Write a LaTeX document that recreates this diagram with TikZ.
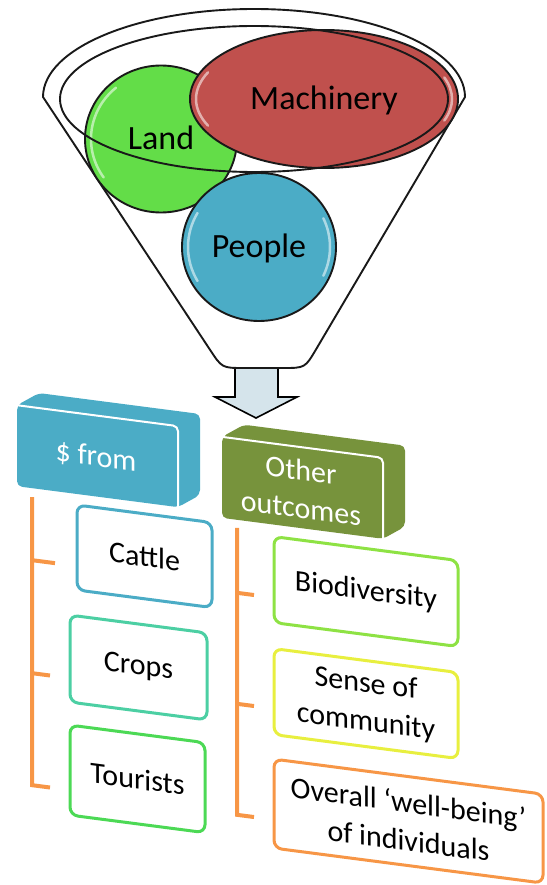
\documentclass[tikz,border=0pt]{standalone}
\usepackage{fontspec}
\setmainfont{Carlito}
\usetikzlibrary{shapes.geometric}
\definecolor{landC}{HTML}{63DD48}
\definecolor{machC}{HTML}{C0504D}
\definecolor{peopC}{HTML}{4BACC6}
\definecolor{otherC}{HTML}{77933C}
\definecolor{arrowC}{HTML}{D5E4EB}
\definecolor{orangeC}{HTML}{F79646}
\definecolor{cattleC}{HTML}{4BACC6}
\definecolor{cropsC}{HTML}{4CCFA3}
\definecolor{tourC}{HTML}{4CD955}
\definecolor{bioC}{HTML}{8EE244}
\definecolor{senseC}{HTML}{E8EF3F}
\begin{document}
\begin{tikzpicture}[x=1pt,y=-1pt,
  outl/.style={draw=black!90, line width=1.9pt},
  gloss/.style={draw=white, opacity=0.55, line width=2.5pt, line cap=round},
  blob/.style={ellipse, outl, inner sep=0pt, font=\fontsize{34}{40}\selectfont, text height=22pt, text depth=0pt},
  childbox/.style={draw, line width=3pt, rounded corners=8pt, fill=white, transform shape, inner sep=0pt, font=\fontsize{30}{38}\selectfont, align=center},
  headtext/.style={transform shape, text=white, inner sep=0pt, font=\fontsize{30}{38}\selectfont, align=center},
  orangeline/.style={draw=orangeC, line width=4pt, line join=miter}]
\useasboundingbox (0,0) rectangle (546,885);

% arrow
\path[fill=arrowC, draw=black, line width=1.6pt, line join=miter]
  (235,362) -- (278,362) -- (278,397) -- (297,397) -- (256,418) -- (215,397) -- (235,397) -- cycle;

% funnel body
\path[outl, fill=white] (43,97) arc[start angle=180, end angle=360, x radius=211, y radius=88]
  -- (316.2,349.1) .. controls (305,368) .. (283,368) -- (244,368)
  .. controls (222,368) .. (209.9,349.6) -- cycle;

% blobs
\node[blob, fill=landC, minimum width=152pt, minimum height=147pt] (land) at (161,139) {Land};
\draw[gloss] (land.center) ++(145:70 and 67) arc[start angle=145, end angle=230, x radius=70, y radius=67];
\node[blob, fill=machC, minimum width=268pt, minimum height=138pt] (mach) at (324,99) {Machinery};
\draw[gloss] (mach.center) ++(155:128 and 63) arc[start angle=155, end angle=205, x radius=128, y radius=63];
\draw[gloss] (mach.center) ++(-20:128 and 63) arc[start angle=-20, end angle=20, x radius=128, y radius=63];
\node[blob, fill=peopC, minimum width=154pt, minimum height=148pt] (people) at (259,247) {People};
\draw[gloss] (people.center) ++(150:71 and 68) arc[start angle=150, end angle=210, x radius=71, y radius=68];
\draw[gloss] (people.center) ++(-25:71 and 68) arc[start angle=-25, end angle=25, x radius=71, y radius=68];

% inner rim
\draw[outl] (254,99) ellipse[x radius=194, y radius=73];

% lower part, in perspective
\begin{scope}[yslant=-0.13]
  % head boxes
  \fill[peopC, rounded corners=5pt] (17,403) -- (39,388) -- (200,388) -- (200,469) -- (178,484) -- (17,484) -- cycle;
  \draw[white, line width=2pt, rounded corners=5pt] (18,403) -- (178,403) -- (178,484);
  \node[headtext] (from) at (96,445) {\$ from};

  \fill[otherC, rounded corners=5pt] (222,408) -- (244,393) -- (405,393) -- (405,474) -- (383,489) -- (222,489) -- cycle;
  \draw[white, line width=2pt, rounded corners=5pt] (223,408) -- (383,408) -- (383,489);
  \node[headtext] (other) at (301,450) {Other\\outcomes};

  % children
  \node[childbox, draw=cattleC, minimum width=135pt, minimum height=85pt] (cattle) at (144.5,537.5) {Cattle};
  \node[childbox, draw=cropsC, minimum width=137pt, minimum height=87pt] (crops) at (138.5,649.5) {Crops};
  \node[childbox, draw=tourC, minimum width=135pt, minimum height=90pt] (tourists) at (137.5,761) {Tourists};
  \node[childbox, draw=bioC, minimum width=184pt, minimum height=86pt] (bio) at (366,544) {Biodiversity};
  \node[childbox, draw=senseC, minimum width=184pt, minimum height=86pt] (sense) at (366,656) {Sense of\\community};
  \node[childbox, draw=orangeC, minimum width=269pt, minimum height=89pt] (overall) at (408.5,768) {Overall ‘well-being’\\of individuals};

  % orange brackets
  \coordinate (lt) at (32,493);
  \coordinate (lb) at (32,781);
  \coordinate (lbe) at (50,781);
  \coordinate (l1) at (32,556);
  \coordinate (l1e) at (55,556);
  \coordinate (l2) at (32,669);
  \coordinate (l2e) at (50,669);
  \draw[orangeline] (lt) -- (lb) -- (lbe);
  \draw[orangeline] (l1) -- (l1e);
  \draw[orangeline] (l2) -- (l2e);

  \coordinate (rt) at (237,497);
  \coordinate (rb) at (237,784);
  \coordinate (rbe) at (254,784);
  \coordinate (r1) at (237,562);
  \coordinate (r1e) at (254,562);
  \coordinate (r2) at (237,673);
  \coordinate (r2e) at (254,673);
  \draw[orangeline] (rt) -- (rb) -- (rbe);
  \draw[orangeline] (r1) -- (r1e);
  \draw[orangeline] (r2) -- (r2e);
\end{scope}
\end{tikzpicture}
\end{document}
